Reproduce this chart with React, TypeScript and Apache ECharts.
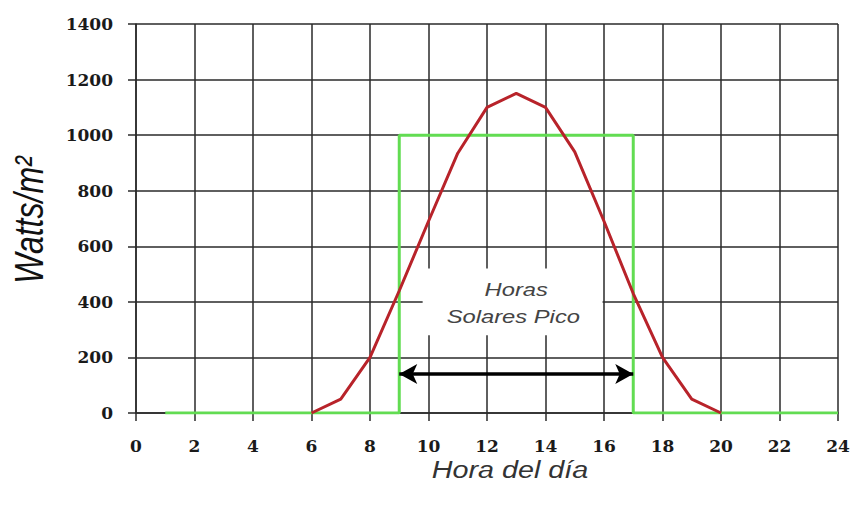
import React, { useEffect, useRef } from "react";
import * as echarts from "echarts";

// Irradiance curve (red)
const curveHours = [6, 7, 8, 9, 10, 11, 12, 13, 14, 15, 16, 17, 18, 19, 20];
const curveWatts = [0, 50, 200, 440, 690, 935, 1100, 1150, 1100, 940, 690, 430, 200, 50, 0];

// Peak sun hours equivalent (green)
const hspHours = [1, 9, 9, 17, 17, 24];
const hspWatts = [0, 0, 1000, 1000, 0, 0];

// Annotations
const arrowHours = [9, 17];
const arrowLevel = 140;
const boxCorners = [
  [9.8, 520],
  [15.95, 280],
];
const boxLines = ["Horas", "Solares Pico"];
const boxLinePos = [
  [13, 445],
  [12.9, 345],
];

const xTitle = "Hora del día";
const yTitle = "Watts/m²";

const GRID_COLOR = "#2a2a2a";

export default function App() {
  const ref = useRef<HTMLDivElement>(null);

  useEffect(() => {
    if (!ref.current) return;
    const chart = echarts.init(ref.current, undefined, { renderer: "svg" });

    const axisCommon = {
      type: "value" as const,
      axisLine: { show: true, lineStyle: { color: GRID_COLOR, width: 1.5 } },
      axisTick: { show: true, inside: false, length: 8, lineStyle: { color: GRID_COLOR, width: 1.5 } },
      splitLine: { show: true, lineStyle: { color: GRID_COLOR, width: 1.5 } },
      axisLabel: {
        color: "#1a1a1a",
        fontFamily: "DejaVu Serif",
        fontWeight: "bold" as const,
        fontSize: 17,
        formatter: (v: number) => String(v),
      },
    };

    chart.setOption({
      animation: false,
      backgroundColor: "#ffffff",
      grid: { left: 136, right: 18, top: 24, bottom: 96, containLabel: false },
      xAxis: {
        ...axisCommon,
        min: 0,
        max: 24,
        interval: 2,
        axisLabel: { ...axisCommon.axisLabel, margin: 24 },
      },
      yAxis: {
        ...axisCommon,
        min: 0,
        max: 1400,
        interval: 200,
        axisLabel: { ...axisCommon.axisLabel, margin: 23 },
      },
      series: [
        {
          type: "line",
          name: "HSP",
          data: hspHours.map((h, i) => [h, hspWatts[i]]),
          symbol: "none",
          lineStyle: { color: "#62dc52", width: 3 },
          z: 3,
          markArea: {
            silent: true,
            itemStyle: { color: "#ffffff", opacity: 1 },
            data: [[{ coord: boxCorners[0] }, { coord: boxCorners[1] }]],
          },
          markLine: {
            silent: true,
            symbol: ["arrow", "arrow"],
            symbolSize: [15, 18],
            label: { show: false },
            lineStyle: { color: "#000000", width: 3.5, type: "solid" },
            data: [[{ coord: [arrowHours[0], arrowLevel] }, { coord: [arrowHours[1], arrowLevel] }]],
          },
        },
        {
          type: "line",
          name: "Irradiancia",
          data: curveHours.map((h, i) => [h, curveWatts[i]]),
          symbol: "none",
          lineStyle: { color: "#b8232a", width: 3 },
          z: 4,
        },
      ],
    });

    const toPx = (p: number[]) => chart.convertToPixel({ gridIndex: 0 }, p) as number[];
    const p0 = toPx(boxLinePos[0]);
    const p1 = toPx(boxLinePos[1]);

    chart.setOption({
      graphic: [
        {
          type: "text",
          x: 29,
          y: 220,
          rotation: Math.PI / 2,
          scaleY: 1.25,
          style: {
            text: yTitle,
            fontFamily: "Liberation Sans",
            fontStyle: "italic",
            fontSize: 32,
            fill: "#111111",
            textAlign: "center",
            textVerticalAlign: "middle",
          },
        },
        {
          type: "text",
          x: 510,
          y: 470,
          scaleX: 1.25,
          style: {
            text: xTitle,
            fontFamily: "Liberation Sans",
            fontStyle: "italic",
            fontSize: 23,
            fill: "#333333",
            textAlign: "center",
            textVerticalAlign: "middle",
          },
        },
        {
          type: "text",
          x: p0[0],
          y: p0[1],
          scaleX: 1.25,
          z: 10,
          style: {
            text: boxLines[0],
            fontFamily: "Liberation Sans",
            fontStyle: "italic",
            fontSize: 19,
            fill: "#444444",
            textAlign: "center",
            textVerticalAlign: "middle",
          },
        },
        {
          type: "text",
          x: p1[0],
          y: p1[1],
          scaleX: 1.25,
          z: 10,
          style: {
            text: boxLines[1],
            fontFamily: "Liberation Sans",
            fontStyle: "italic",
            fontSize: 19,
            fill: "#444444",
            textAlign: "center",
            textVerticalAlign: "middle",
          },
        },
      ],
    });

    return () => chart.dispose();
  }, []);

  return (
    <div
      ref={ref}
      style={{ position: "absolute", left: 0, top: 0, width: 856, height: 509, background: "#fff" }}
    />
  );
}
